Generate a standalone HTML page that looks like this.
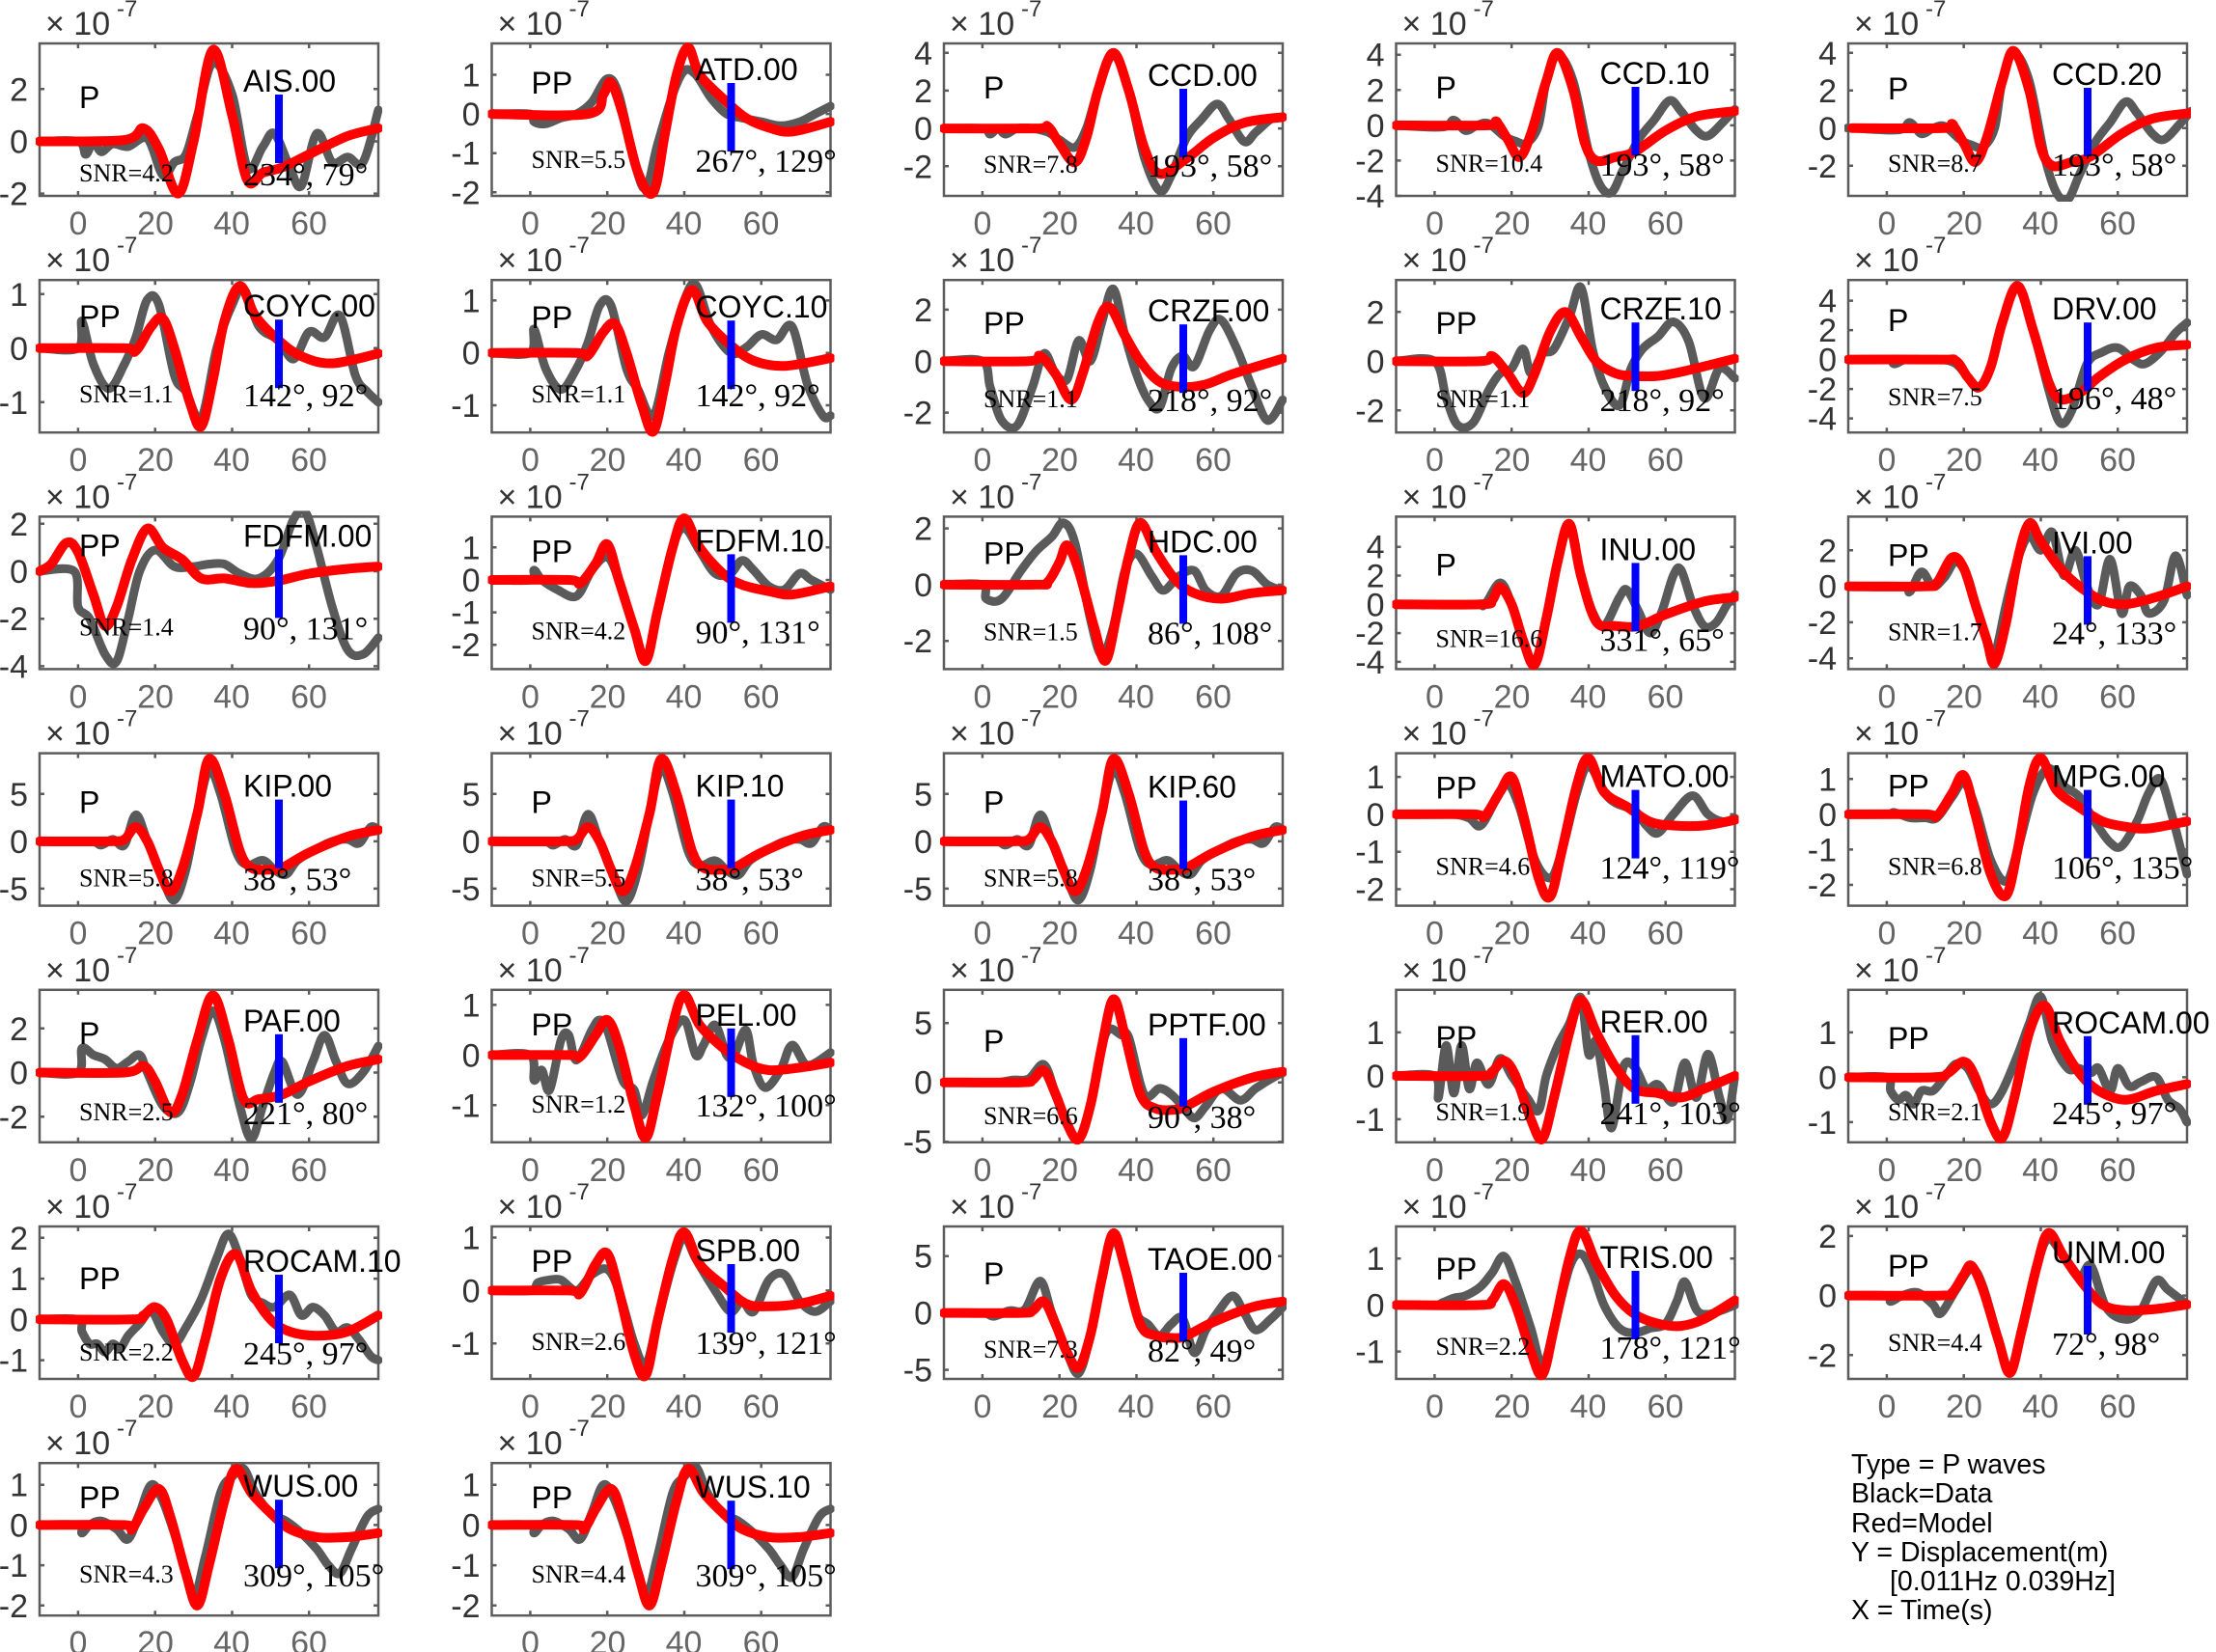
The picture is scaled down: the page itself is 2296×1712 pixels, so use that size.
<!DOCTYPE html>
<html><head><meta charset="utf-8">
<style>
html,body{margin:0;padding:0;background:#fff;}
svg{display:block;}
text{font-family:"Liberation Sans",sans-serif;}
.e{font-size:34px;fill:#333;}
.e2{font-size:24px;fill:#333;}
.xl{font-size:34px;fill:#666;text-anchor:middle;}
.yl{font-size:34px;fill:#333;text-anchor:end;}
.ti{font-size:32px;fill:#000;}
.ph{font-size:32px;fill:#000;}
.sn{font-family:"Liberation Serif",serif;font-size:26px;fill:#000;}
.an{font-family:"Liberation Serif",serif;font-size:34px;fill:#000;}
.lg{font-size:28.5px;fill:#000;}
</style></head><body>
<svg id="s" width="2296" height="1712" viewBox="0 0 2296 1712" xmlns="http://www.w3.org/2000/svg">
<rect width="2296" height="1712" fill="#fff"/>

<g class="pn" transform="translate(41,45)"><text class="e" x="6" y="-9">× 10</text><text class="e2" x="80" y="-28">-7</text><text class="xl" x="40" y="198">0</text><text class="xl" x="120" y="198">20</text><text class="xl" x="199" y="198">40</text><text class="xl" x="279" y="198">60</text><text class="yl">-2</text><text class="yl">0</text><text class="yl">2</text><text class="ti" x="211" y="50">AIS.00</text><text class="ph" x="41" y="67">P</text><text class="sn" x="41" y="143">SNR=4.2</text><text class="an" x="211" y="147">234°, 79°</text></g>
<g class="pn" transform="translate(509.5,45)"><text class="e" x="6" y="-9">× 10</text><text class="e2" x="80" y="-28">-7</text><text class="xl" x="40" y="198">0</text><text class="xl" x="120" y="198">20</text><text class="xl" x="199" y="198">40</text><text class="xl" x="279" y="198">60</text><text class="yl">-2</text><text class="yl">-1</text><text class="yl">0</text><text class="yl">1</text><text class="ti" x="211" y="38">ATD.00</text><text class="ph" x="41" y="52">PP</text><text class="sn" x="41" y="129">SNR=5.5</text><text class="an" x="211" y="133">267°, 129°</text></g>
<g class="pn" transform="translate(978,45)"><text class="e" x="6" y="-9">× 10</text><text class="e2" x="80" y="-28">-7</text><text class="xl" x="40" y="198">0</text><text class="xl" x="120" y="198">20</text><text class="xl" x="199" y="198">40</text><text class="xl" x="279" y="198">60</text><text class="yl">-2</text><text class="yl">0</text><text class="yl">2</text><text class="yl">4</text><text class="ti" x="211" y="44">CCD.00</text><text class="ph" x="41" y="57">P</text><text class="sn" x="41" y="134">SNR=7.8</text><text class="an" x="211" y="138">193°, 58°</text></g>
<g class="pn" transform="translate(1446.5,45)"><text class="e" x="6" y="-9">× 10</text><text class="e2" x="80" y="-28">-7</text><text class="xl" x="40" y="198">0</text><text class="xl" x="120" y="198">20</text><text class="xl" x="199" y="198">40</text><text class="xl" x="279" y="198">60</text><text class="yl">-4</text><text class="yl">-2</text><text class="yl">0</text><text class="yl">2</text><text class="yl">4</text><text class="ti" x="211" y="42">CCD.10</text><text class="ph" x="41" y="57">P</text><text class="sn" x="41" y="133">SNR=10.4</text><text class="an" x="211" y="137">193°, 58°</text></g>
<g class="pn" transform="translate(1915,45)"><text class="e" x="6" y="-9">× 10</text><text class="e2" x="80" y="-28">-7</text><text class="xl" x="40" y="198">0</text><text class="xl" x="120" y="198">20</text><text class="xl" x="199" y="198">40</text><text class="xl" x="279" y="198">60</text><text class="yl">-2</text><text class="yl">0</text><text class="yl">2</text><text class="yl">4</text><text class="ti" x="211" y="43">CCD.20</text><text class="ph" x="41" y="58">P</text><text class="sn" x="41" y="133">SNR=8.7</text><text class="an" x="211" y="137">193°, 58°</text></g>

<g class="pn" transform="translate(41,290.2)"><text class="e" x="6" y="-9">× 10</text><text class="e2" x="80" y="-28">-7</text><text class="xl" x="40" y="198">0</text><text class="xl" x="120" y="198">20</text><text class="xl" x="199" y="198">40</text><text class="xl" x="279" y="198">60</text><text class="yl">-1</text><text class="yl">0</text><text class="yl">1</text><text class="ti" x="211" y="38">COYC.00</text><text class="ph" x="41" y="49">PP</text><text class="sn" x="41" y="127">SNR=1.1</text><text class="an" x="211" y="131">142°, 92°</text></g>
<g class="pn" transform="translate(509.5,290.2)"><text class="e" x="6" y="-9">× 10</text><text class="e2" x="80" y="-28">-7</text><text class="xl" x="40" y="198">0</text><text class="xl" x="120" y="198">20</text><text class="xl" x="199" y="198">40</text><text class="xl" x="279" y="198">60</text><text class="yl">-1</text><text class="yl">0</text><text class="yl">1</text><text class="ti" x="211" y="39">COYC.10</text><text class="ph" x="41" y="50">PP</text><text class="sn" x="41" y="127">SNR=1.1</text><text class="an" x="211" y="131">142°, 92°</text></g>
<g class="pn" transform="translate(978,290.2)"><text class="e" x="6" y="-9">× 10</text><text class="e2" x="80" y="-28">-7</text><text class="xl" x="40" y="198">0</text><text class="xl" x="120" y="198">20</text><text class="xl" x="199" y="198">40</text><text class="xl" x="279" y="198">60</text><text class="yl">-2</text><text class="yl">0</text><text class="yl">2</text><text class="ti" x="211" y="43">CRZF.00</text><text class="ph" x="41" y="56">PP</text><text class="sn" x="41" y="132">SNR=1.1</text><text class="an" x="211" y="136">218°, 92°</text></g>
<g class="pn" transform="translate(1446.5,290.2)"><text class="e" x="6" y="-9">× 10</text><text class="e2" x="80" y="-28">-7</text><text class="xl" x="40" y="198">0</text><text class="xl" x="120" y="198">20</text><text class="xl" x="199" y="198">40</text><text class="xl" x="279" y="198">60</text><text class="yl">-2</text><text class="yl">0</text><text class="yl">2</text><text class="ti" x="211" y="41">CRZF.10</text><text class="ph" x="41" y="56">PP</text><text class="sn" x="41" y="132">SNR=1.1</text><text class="an" x="211" y="136">218°, 92°</text></g>
<g class="pn" transform="translate(1915,290.2)"><text class="e" x="6" y="-9">× 10</text><text class="e2" x="80" y="-28">-7</text><text class="xl" x="40" y="198">0</text><text class="xl" x="120" y="198">20</text><text class="xl" x="199" y="198">40</text><text class="xl" x="279" y="198">60</text><text class="yl">-4</text><text class="yl">-2</text><text class="yl">0</text><text class="yl">2</text><text class="yl">4</text><text class="ti" x="211" y="41">DRV.00</text><text class="ph" x="41" y="53">P</text><text class="sn" x="41" y="130">SNR=7.5</text><text class="an" x="211" y="134">196°, 48°</text></g>

<g class="pn" transform="translate(41,535.4)"><text class="e" x="6" y="-9">× 10</text><text class="e2" x="80" y="-28">-7</text><text class="xl" x="40" y="198">0</text><text class="xl" x="120" y="198">20</text><text class="xl" x="199" y="198">40</text><text class="xl" x="279" y="198">60</text><text class="yl">-4</text><text class="yl">-2</text><text class="yl">0</text><text class="yl">2</text><text class="ti" x="211" y="31">FDFM.00</text><text class="ph" x="41" y="41">PP</text><text class="sn" x="41" y="123">SNR=1.4</text><text class="an" x="211" y="127">90°, 131°</text></g>
<g class="pn" transform="translate(509.5,535.4)"><text class="e" x="6" y="-9">× 10</text><text class="e2" x="80" y="-28">-7</text><text class="xl" x="40" y="198">0</text><text class="xl" x="120" y="198">20</text><text class="xl" x="199" y="198">40</text><text class="xl" x="279" y="198">60</text><text class="yl">-2</text><text class="yl">-1</text><text class="yl">0</text><text class="yl">1</text><text class="ti" x="211" y="36">FDFM.10</text><text class="ph" x="41" y="47">PP</text><text class="sn" x="41" y="127">SNR=4.2</text><text class="an" x="211" y="131">90°, 131°</text></g>
<g class="pn" transform="translate(978,535.4)"><text class="e" x="6" y="-9">× 10</text><text class="e2" x="80" y="-28">-7</text><text class="xl" x="40" y="198">0</text><text class="xl" x="120" y="198">20</text><text class="xl" x="199" y="198">40</text><text class="xl" x="279" y="198">60</text><text class="yl">-2</text><text class="yl">0</text><text class="yl">2</text><text class="ti" x="211" y="37">HDC.00</text><text class="ph" x="41" y="49">PP</text><text class="sn" x="41" y="128">SNR=1.5</text><text class="an" x="211" y="132">86°, 108°</text></g>
<g class="pn" transform="translate(1446.5,535.4)"><text class="e" x="6" y="-9">× 10</text><text class="e2" x="80" y="-28">-7</text><text class="xl" x="40" y="198">0</text><text class="xl" x="120" y="198">20</text><text class="xl" x="199" y="198">40</text><text class="xl" x="279" y="198">60</text><text class="yl">-4</text><text class="yl">-2</text><text class="yl">0</text><text class="yl">2</text><text class="yl">4</text><text class="ti" x="211" y="45">INU.00</text><text class="ph" x="41" y="61">P</text><text class="sn" x="41" y="135">SNR=16.6</text><text class="an" x="211" y="139">331°, 65°</text></g>
<g class="pn" transform="translate(1915,535.4)"><text class="e" x="6" y="-9">× 10</text><text class="e2" x="80" y="-28">-7</text><text class="xl" x="40" y="198">0</text><text class="xl" x="120" y="198">20</text><text class="xl" x="199" y="198">40</text><text class="xl" x="279" y="198">60</text><text class="yl">-4</text><text class="yl">-2</text><text class="yl">0</text><text class="yl">2</text><text class="ti" x="211" y="38">IVI.00</text><text class="ph" x="41" y="51">PP</text><text class="sn" x="41" y="128">SNR=1.7</text><text class="an" x="211" y="132">24°, 133°</text></g>

<g class="pn" transform="translate(41,780.6)"><text class="e" x="6" y="-9">× 10</text><text class="e2" x="80" y="-28">-7</text><text class="xl" x="40" y="198">0</text><text class="xl" x="120" y="198">20</text><text class="xl" x="199" y="198">40</text><text class="xl" x="279" y="198">60</text><text class="yl">-5</text><text class="yl">0</text><text class="yl">5</text><text class="ti" x="211" y="45">KIP.00</text><text class="ph" x="41" y="62">P</text><text class="sn" x="41" y="138">SNR=5.8</text><text class="an" x="211" y="142">38°, 53°</text></g>
<g class="pn" transform="translate(509.5,780.6)"><text class="e" x="6" y="-9">× 10</text><text class="e2" x="80" y="-28">-7</text><text class="xl" x="40" y="198">0</text><text class="xl" x="120" y="198">20</text><text class="xl" x="199" y="198">40</text><text class="xl" x="279" y="198">60</text><text class="yl">-5</text><text class="yl">0</text><text class="yl">5</text><text class="ti" x="211" y="45">KIP.10</text><text class="ph" x="41" y="62">P</text><text class="sn" x="41" y="138">SNR=5.5</text><text class="an" x="211" y="142">38°, 53°</text></g>
<g class="pn" transform="translate(978,780.6)"><text class="e" x="6" y="-9">× 10</text><text class="e2" x="80" y="-28">-7</text><text class="xl" x="40" y="198">0</text><text class="xl" x="120" y="198">20</text><text class="xl" x="199" y="198">40</text><text class="xl" x="279" y="198">60</text><text class="yl">-5</text><text class="yl">0</text><text class="yl">5</text><text class="ti" x="211" y="46">KIP.60</text><text class="ph" x="41" y="62">P</text><text class="sn" x="41" y="138">SNR=5.8</text><text class="an" x="211" y="142">38°, 53°</text></g>
<g class="pn" transform="translate(1446.5,780.6)"><text class="e" x="6" y="-9">× 10</text><text class="e2" x="80" y="-28">-7</text><text class="xl" x="40" y="198">0</text><text class="xl" x="120" y="198">20</text><text class="xl" x="199" y="198">40</text><text class="xl" x="279" y="198">60</text><text class="yl">-2</text><text class="yl">-1</text><text class="yl">0</text><text class="yl">1</text><text class="ti" x="211" y="35">MATO.00</text><text class="ph" x="41" y="47">PP</text><text class="sn" x="41" y="126">SNR=4.6</text><text class="an" x="211" y="130">124°, 119°</text></g>
<g class="pn" transform="translate(1915,780.6)"><text class="e" x="6" y="-9">× 10</text><text class="e2" x="80" y="-28">-7</text><text class="xl" x="40" y="198">0</text><text class="xl" x="120" y="198">20</text><text class="xl" x="199" y="198">40</text><text class="xl" x="279" y="198">60</text><text class="yl">-2</text><text class="yl">-1</text><text class="yl">0</text><text class="yl">1</text><text class="ti" x="211" y="35">MPG.00</text><text class="ph" x="41" y="45">PP</text><text class="sn" x="41" y="126">SNR=6.8</text><text class="an" x="211" y="130">106°, 135°</text></g>

<g class="pn" transform="translate(41,1025.8)"><text class="e" x="6" y="-9">× 10</text><text class="e2" x="80" y="-28">-7</text><text class="xl" x="40" y="198">0</text><text class="xl" x="120" y="198">20</text><text class="xl" x="199" y="198">40</text><text class="xl" x="279" y="198">60</text><text class="yl">-2</text><text class="yl">0</text><text class="yl">2</text><text class="ti" x="211" y="43">PAF.00</text><text class="ph" x="41" y="56">P</text><text class="sn" x="41" y="135">SNR=2.5</text><text class="an" x="211" y="139">221°, 80°</text></g>
<g class="pn" transform="translate(509.5,1025.8)"><text class="e" x="6" y="-9">× 10</text><text class="e2" x="80" y="-28">-7</text><text class="xl" x="40" y="198">0</text><text class="xl" x="120" y="198">20</text><text class="xl" x="199" y="198">40</text><text class="xl" x="279" y="198">60</text><text class="yl">-1</text><text class="yl">0</text><text class="yl">1</text><text class="ti" x="211" y="37">PEL.00</text><text class="ph" x="41" y="47">PP</text><text class="sn" x="41" y="127">SNR=1.2</text><text class="an" x="211" y="131">132°, 100°</text></g>
<g class="pn" transform="translate(978,1025.8)"><text class="e" x="6" y="-9">× 10</text><text class="e2" x="80" y="-28">-7</text><text class="xl" x="40" y="198">0</text><text class="xl" x="120" y="198">20</text><text class="xl" x="199" y="198">40</text><text class="xl" x="279" y="198">60</text><text class="yl">-5</text><text class="yl">0</text><text class="yl">5</text><text class="ti" x="211" y="47">PPTF.00</text><text class="ph" x="41" y="64">P</text><text class="sn" x="41" y="139">SNR=6.6</text><text class="an" x="211" y="143">90°, 38°</text></g>
<g class="pn" transform="translate(1446.5,1025.8)"><text class="e" x="6" y="-9">× 10</text><text class="e2" x="80" y="-28">-7</text><text class="xl" x="40" y="198">0</text><text class="xl" x="120" y="198">20</text><text class="xl" x="199" y="198">40</text><text class="xl" x="279" y="198">60</text><text class="yl">-1</text><text class="yl">0</text><text class="yl">1</text><text class="ti" x="211" y="44">RER.00</text><text class="ph" x="41" y="60">PP</text><text class="sn" x="41" y="135">SNR=1.9</text><text class="an" x="211" y="139">241°, 103°</text></g>
<g class="pn" transform="translate(1915,1025.8)"><text class="e" x="6" y="-9">× 10</text><text class="e2" x="80" y="-28">-7</text><text class="xl" x="40" y="198">0</text><text class="xl" x="120" y="198">20</text><text class="xl" x="199" y="198">40</text><text class="xl" x="279" y="198">60</text><text class="yl">-1</text><text class="yl">0</text><text class="yl">1</text><text class="ti" x="211" y="45">ROCAM.00</text><text class="ph" x="41" y="61">PP</text><text class="sn" x="41" y="135">SNR=2.1</text><text class="an" x="211" y="139">245°, 97°</text></g>

<g class="pn" transform="translate(41,1271)"><text class="e" x="6" y="-9">× 10</text><text class="e2" x="80" y="-28">-7</text><text class="xl" x="40" y="198">0</text><text class="xl" x="120" y="198">20</text><text class="xl" x="199" y="198">40</text><text class="xl" x="279" y="198">60</text><text class="yl">-1</text><text class="yl">0</text><text class="yl">1</text><text class="yl">2</text><text class="ti" x="211" y="47">ROCAM.10</text><text class="ph" x="41" y="65">PP</text><text class="sn" x="41" y="139">SNR=2.2</text><text class="an" x="211" y="143">245°, 97°</text></g>
<g class="pn" transform="translate(509.5,1271)"><text class="e" x="6" y="-9">× 10</text><text class="e2" x="80" y="-28">-7</text><text class="xl" x="40" y="198">0</text><text class="xl" x="120" y="198">20</text><text class="xl" x="199" y="198">40</text><text class="xl" x="279" y="198">60</text><text class="yl">-1</text><text class="yl">0</text><text class="yl">1</text><text class="ti" x="211" y="36">SPB.00</text><text class="ph" x="41" y="47">PP</text><text class="sn" x="41" y="128">SNR=2.6</text><text class="an" x="211" y="132">139°, 121°</text></g>
<g class="pn" transform="translate(978,1271)"><text class="e" x="6" y="-9">× 10</text><text class="e2" x="80" y="-28">-7</text><text class="xl" x="40" y="198">0</text><text class="xl" x="120" y="198">20</text><text class="xl" x="199" y="198">40</text><text class="xl" x="279" y="198">60</text><text class="yl">-5</text><text class="yl">0</text><text class="yl">5</text><text class="ti" x="211" y="45">TAOE.00</text><text class="ph" x="41" y="60">P</text><text class="sn" x="41" y="136">SNR=7.3</text><text class="an" x="211" y="140">82°, 49°</text></g>
<g class="pn" transform="translate(1446.5,1271)"><text class="e" x="6" y="-9">× 10</text><text class="e2" x="80" y="-28">-7</text><text class="xl" x="40" y="198">0</text><text class="xl" x="120" y="198">20</text><text class="xl" x="199" y="198">40</text><text class="xl" x="279" y="198">60</text><text class="yl">-1</text><text class="yl">0</text><text class="yl">1</text><text class="ti" x="211" y="43">TRIS.00</text><text class="ph" x="41" y="55">PP</text><text class="sn" x="41" y="133">SNR=2.2</text><text class="an" x="211" y="137">178°, 121°</text></g>
<g class="pn" transform="translate(1915,1271)"><text class="e" x="6" y="-9">× 10</text><text class="e2" x="80" y="-28">-7</text><text class="xl" x="40" y="198">0</text><text class="xl" x="120" y="198">20</text><text class="xl" x="199" y="198">40</text><text class="xl" x="279" y="198">60</text><text class="yl">-2</text><text class="yl">0</text><text class="yl">2</text><text class="ti" x="211" y="38">UNM.00</text><text class="ph" x="41" y="52">PP</text><text class="sn" x="41" y="129">SNR=4.4</text><text class="an" x="211" y="133">72°, 98°</text></g>

<g class="pn" transform="translate(41,1516.2)"><text class="e" x="6" y="-9">× 10</text><text class="e2" x="80" y="-28">-7</text><text class="xl" x="40" y="198">0</text><text class="xl" x="120" y="198">20</text><text class="xl" x="199" y="198">40</text><text class="xl" x="279" y="198">60</text><text class="yl">-2</text><text class="yl">-1</text><text class="yl">0</text><text class="yl">1</text><text class="ti" x="211" y="35">WUS.00</text><text class="ph" x="41" y="47">PP</text><text class="sn" x="41" y="124">SNR=4.3</text><text class="an" x="211" y="128">309°, 105°</text></g>
<g class="pn" transform="translate(509.5,1516.2)"><text class="e" x="6" y="-9">× 10</text><text class="e2" x="80" y="-28">-7</text><text class="xl" x="40" y="198">0</text><text class="xl" x="120" y="198">20</text><text class="xl" x="199" y="198">40</text><text class="xl" x="279" y="198">60</text><text class="yl">-2</text><text class="yl">-1</text><text class="yl">0</text><text class="yl">1</text><text class="ti" x="211" y="36">WUS.10</text><text class="ph" x="41" y="47">PP</text><text class="sn" x="41" y="124">SNR=4.4</text><text class="an" x="211" y="128">309°, 105°</text></g>

<text class="lg" x="1918" y="1527">Type = P waves</text>
<text class="lg" x="1918" y="1557">Black=Data</text>
<text class="lg" x="1918" y="1588">Red=Model</text>
<text class="lg" x="1918" y="1618">Y = Displacement(m)</text>
<text class="lg" x="1958" y="1648">[0.011Hz 0.039Hz]</text>
<text class="lg" x="1918" y="1678">X = Time(s)</text>
</svg>
<script>
(function(){
var W=351,H=158,NS="http://www.w3.org/2000/svg";
var KIPr=[[-10,0],[8,0],[12,0.2],[15,1.5],[18,0],[21,-3],[24,-5.3],[27,-3],[31,3],[34,8.7],[38,5],[42,-1],[45,-2.8],[50,-3.0],[53,-2.8],[60,-1.2],[70,0.5],[78,1.2]];
var KIPg=[[-10,0],[3,0],[6,-0.4],[9,0.2],[12,-0.4],[15,2.8],[18,0],[22,-4],[25,-6.2],[28,-3],[31,3],[34,7.5],[37,5],[41,-1],[44,-2.5],[48,-2],[51,-3],[54,-3.5],[57,-2],[62,-0.8],[66,0],[70,0.2],[73,-0.2],[76,1.5],[78,1.2]];
var CCDr=[[-10,0],[14,0],[16,0.2],[19,-0.8],[22,-1.8],[25,-0.5],[29,2.5],[32,4.1],[36,2],[39,-1],[42,-2.0],[47,-1.8],[52,-1.5],[60,-0.3],[68,0.5],[78,0.8]];
var CCDg=[[-10,0],[2,-0.1],[5,0.3],[8,-0.3],[11,0],[14,0.1],[18,-0.6],[21,-0.9],[24,-1.0],[27,0],[29,2.5],[32,4.0],[36,2.5],[40,-1.5],[43,-3.4],[46,-3.8],[49,-2.5],[53,-0.8],[57,0.3],[61,1.4],[64,0.8],[68,-0.3],[71,-0.6],[75,0.2],[78,0.9]];
var D=[
{y:[-2.09,3.75],r:[[-10,0],[12,0.05],[17,0.5],[21,-0.3],[26,-2.0],[30,0],[35,3.5],[40,1],[44,-1.5],[48,-1.2],[53,-1.0],[60,-0.5],[70,0.2],[78,0.5]],
 g:[[-10,0],[0,0],[2,-0.5],[4,0],[6,-0.4],[9,-0.1],[13,-0.2],[18,0.1],[22,-1.3],[25,-0.8],[28,-0.5],[31,1],[35,3.0],[40,1.8],[44,-1.0],[48,-0.2],[51,0.3],[55,-1.0],[58,-1.7],[62,0.3],[66,-0.8],[70,-0.6],[74,-0.8],[78,1.2]]},
{y:[-2.09,1.8],r:[[-10,0],[15,0],[19,0.5],[21,0.8],[24,0],[28,-1.5],[32,-2.0],[35,-0.5],[38,1.0],[41,1.7],[44,1.0],[50,0.4],[56,-0.1],[62,-0.35],[68,-0.45],[78,-0.2]],
 g:[[-10,0],[0,0],[1,-0.2],[4,-0.25],[8,-0.1],[12,0],[16,0.3],[20,0.9],[23,0.5],[27,-1.2],[30,-1.9],[33,-0.8],[37,0.5],[40,1.1],[43,1.0],[47,0.4],[51,0.0],[55,-0.1],[60,-0.2],[65,-0.3],[70,-0.2],[74,0],[78,0.2]]},
{y:[-3.57,4.5],r:[[-10,0],[14,0],[17,0.1],[20,-0.8],[24,-1.8],[27,-0.5],[30,2],[34,4],[38,2],[42,-1],[46,-2.4],[53,-1.6],[60,-0.5],[68,0.3],[78,0.6]],
 g:[[-10,0],[0,0],[2,-0.3],[4,0],[6,-0.3],[9,0],[13,0],[17,-0.2],[20,-0.6],[24,-1.0],[27,0],[30,2],[34,3.9],[38,2],[42,-1.5],[46,-3.3],[49,-2.5],[53,-0.5],[57,0.5],[61,1.3],[64,0.5],[68,-0.7],[71,-0.2],[75,0.5],[78,0.6]]},
{y:[-4,4.64],r:CCDr,g:CCDg},
{y:[-3.6,4.5],r:CCDr.map(function(p){return [p[0]+1,p[1]];}),g:CCDg.map(function(p){return [p[0]+1,p[1]];})},
{y:[-1.56,1.26],r:[[-10,0],[12,0],[15,-0.05],[19,0.4],[22,0.55],[25,0],[29,-1.0],[32,-1.45],[35,-0.6],[38,0.5],[42,1.15],[46,0.6],[52,0.15],[58,-0.15],[66,-0.28],[78,-0.1]],
 g:[[-10,0],[0,0],[1,0.5],[4,-0.3],[8,-0.75],[12,-0.3],[15,0.2],[18,0.9],[21,0.8],[25,-0.5],[28,-0.8],[32,-1.3],[36,0],[40,0.8],[43,1.1],[47,0.4],[52,0.15],[56,-0.2],[60,0.3],[64,0.2],[68,0.6],[72,-0.5],[75,-0.8],[78,-1.0]]},
{y:[-1.52,1.39],r:[[-10,0],[12,0],[15,-0.05],[19,0.4],[22,0.55],[25,0],[29,-1.0],[32,-1.5],[35,-0.6],[38,0.5],[42,1.2],[46,0.6],[52,0.15],[58,-0.15],[66,-0.25],[78,-0.1]],
 g:[[-10,0],[0,0],[1,0.45],[4,-0.3],[8,-0.7],[12,-0.3],[15,0.2],[18,0.9],[21,0.9],[25,-0.3],[28,-0.7],[32,-1.2],[36,0],[40,1.0],[43,1.3],[47,0.5],[52,0],[56,0.1],[60,0.35],[64,0.25],[68,0.5],[72,-0.6],[76,-1.2],[78,-1.2]]},
{y:[-2.77,3.15],r:[[-10,0],[12,0],[15,0.2],[19,-0.5],[23,-1.5],[26,-0.5],[30,1.5],[33,2.1],[37,1],[41,0],[46,-0.8],[52,-1.0],[58,-0.9],[65,-0.5],[78,0.1]],
 g:[[-10,0],[0,0],[2,-1.0],[5,-2.3],[9,-2.5],[13,-1.0],[16,0.3],[19,-0.5],[22,-0.7],[25,0.8],[28,0],[31,1.5],[34,2.8],[37,1],[40,-0.5],[43,-1.5],[46,-1.8],[49,-0.3],[52,0.2],[55,-0.2],[59,1.2],[62,1.6],[66,0.5],[70,-1.0],[74,-2.3],[78,-1.5]]},
{y:[-2.9,3.3],r:[[-10,0],[12,0],[15,0.2],[19,-0.5],[23,-1.3],[26,-0.5],[30,1.2],[34,2.0],[38,1],[42,0],[47,-0.5],[52,-0.6],[58,-0.6],[65,-0.4],[78,0.1]],
 g:[[-10,0],[0,0],[3,-1.5],[6,-2.6],[10,-2.5],[14,-1.2],[17,-0.5],[20,-0.3],[23,0.5],[25,-0.5],[28,0.3],[31,0.5],[35,1.8],[38,3.0],[41,0.5],[44,-1.0],[48,-1.8],[51,-0.3],[54,0.5],[58,1.0],[62,1.6],[66,0.8],[70,-1.5],[74,-0.3],[78,-0.7]]},
{y:[-4.96,5.4],r:[[-10,0],[14,0],[18,-0.1],[21,-1.2],[24,-1.9],[27,-0.5],[30,2.5],[34,5.0],[38,2],[42,-1.5],[45,-2.7],[50,-2.3],[55,-1.2],[62,0.0],[70,0.8],[78,1.0]],
 g:[[-10,0],[0,0],[2,-0.3],[5,0],[10,0],[14,0],[18,-0.3],[22,-1.5],[24,-1.9],[27,-0.5],[30,2.5],[34,4.9],[38,2],[42,-2],[45,-4.3],[48,-3.5],[52,-0.3],[56,0.5],[60,0.8],[64,0],[67,-0.3],[71,0.5],[75,1.8],[78,2.5]]},
{y:[-4.12,2.3],r:[[-10,0],[-7,0.3],[-3,1.2],[0,0.8],[4,-1],[7,-2.3],[10,-1.5],[14,0.5],[18,1.8],[22,1.0],[27,0.5],[32,-0.3],[38,-0.3],[45,-0.5],[52,-0.4],[60,-0.1],[70,0.1],[78,0.2]],
 g:[[-10,0],[-1,0],[0,-1.5],[3,-2],[7,-3.5],[10,-3.8],[13,-2],[16,0],[20,0.9],[25,0.2],[30,0.2],[34,0.3],[38,0.3],[42,-0.1],[47,-0.3],[52,0.5],[56,2.2],[59,2.5],[62,1.0],[66,-1.5],[70,-3.3],[74,-3.5],[78,-2.8]]},
{y:[-2.75,1.95],r:[[-10,0],[10,0],[13,-0.1],[17,0.5],[20,1.1],[23,0],[27,-1.5],[30,-2.5],[33,-1.0],[37,1.0],[40,1.9],[44,1.0],[50,0.2],[55,-0.15],[62,-0.35],[68,-0.45],[78,-0.2]],
 g:[[-10,0],[0,0],[1,0.3],[3,0],[7,-0.3],[12,-0.5],[16,0.3],[20,0.7],[23,0],[27,-1.5],[30,-2.5],[33,-1.0],[37,1.0],[40,1.6],[44,0.9],[48,0.2],[52,0.2],[55,0.6],[58,0.3],[62,-0.2],[66,-0.3],[70,0.2],[73,0],[78,-0.3]]},
{y:[-3.0,2.42],r:[[-10,0],[14,0],[17,0.1],[20,0.8],[22,1.4],[25,0.5],[29,-1.5],[32,-2.7],[35,-1.0],[38,1.0],[41,2.2],[45,1.2],[50,0.2],[55,-0.3],[62,-0.5],[70,-0.3],[78,-0.2]],
 g:[[-10,0],[0,0],[1,-0.5],[5,-0.5],[10,0.5],[14,1.2],[18,1.7],[21,2.2],[24,1.5],[28,-1.2],[31,-2.5],[34,-1.5],[37,0.5],[40,1.1],[44,0.3],[47,-0.2],[51,0.3],[55,0.5],[58,-0.2],[62,-0.4],[66,0.4],[70,0.5],[74,0],[78,-0.2]]},
{y:[-4.5,6.1],r:[[-10,0],[12,0],[15,0.3],[17,1.2],[20,0],[23,-2.5],[26,-4.2],[29,-1.0],[32,3],[35,5.6],[38,2],[42,-1.2],[47,-1.5],[53,-1.5],[60,-0.7],[70,0.2],[78,0.5]],
 g:[[-10,0],[10,0],[13,0],[17,1.5],[20,0],[23,-2.5],[26,-4],[29,-1],[32,3],[35,5.3],[38,2],[41,-0.5],[44,-1.5],[48,0.5],[50,1],[53,-0.5],[56,-2.0],[59,-0.5],[62,2],[64,2.4],[67,0],[70,-1.5],[73,-1.3],[76,0],[78,0.7]]},
{y:[-4.6,3.87],r:[[-10,0],[10,0],[13,0.2],[17,1.6],[20,1.0],[23,-1],[26,-3],[28,-4.3],[31,-2],[34,1.5],[37,3.5],[40,2.5],[45,1.0],[50,0],[56,-0.8],[62,-1.0],[70,-0.6],[78,0]],
 g:[[-10,0],[4,0],[6,-0.3],[9,0.8],[12,0],[15,0.5],[18,1.4],[21,0.5],[23,-1],[26,-3],[28,-3.8],[31,-1],[34,1.5],[37,2.8],[40,2.0],[43,3.0],[46,0.6],[49,2.0],[52,0],[55,-1.0],[58,1.5],[61,-1.5],[63,0],[66,-0.5],[68,-1.5],[72,-0.8],[75,1.7],[78,-0.5]]},
{y:[-6.8,9.3],r:KIPr,g:KIPg},
{y:[-6.8,9.3],r:KIPr,g:KIPg.map(function(p){return [p[0],p[1]*1.02];})},
{y:[-6.8,9.3],r:KIPr,g:KIPg},
{y:[-2.44,1.63],r:[[-10,0],[10,0],[13,-0.05],[17,0.6],[20,1.0],[23,0],[27,-1.7],[30,-2.2],[33,-1.0],[37,0.8],[40,1.5],[44,0.6],[50,0.2],[56,-0.2],[62,-0.3],[70,-0.3],[78,-0.15]],
 g:[[-10,0],[0,0],[5,0],[9,-0.1],[12,-0.3],[16,0.4],[19,0.8],[22,0.2],[26,-1.2],[30,-1.7],[33,-1.0],[37,0.6],[40,1.3],[44,0.6],[47,0.3],[52,0.1],[55,-0.3],[58,-0.5],[62,0],[67,0.5],[71,0],[75,-0.2],[78,-0.1]]},
{y:[-2.59,1.73],r:[[-10,0],[10,0],[13,-0.05],[17,0.6],[20,1.1],[23,0],[27,-1.7],[31,-2.3],[34,-1.0],[37,0.8],[40,1.6],[44,0.7],[50,0.2],[56,-0.2],[62,-0.35],[68,-0.4],[78,-0.2]],
 g:[[-10,0],[0,0],[2,0.05],[6,-0.1],[10,-0.1],[13,-0.1],[17,0.5],[20,0.9],[23,0.2],[27,-1.3],[31,-1.9],[34,-1.0],[38,0.6],[42,1.3],[46,0.8],[50,0.5],[54,-0.2],[58,-0.8],[61,-0.9],[65,-0.2],[68,0.6],[71,1.0],[74,0],[78,-1.7]]},
{y:[-3.16,3.75],r:[[-10,0],[12,0],[17,0.3],[20,-0.4],[24,-1.8],[27,-1.0],[31,1.5],[35,3.5],[39,1.5],[43,-1.2],[47,-1.2],[53,-1.0],[60,-0.4],[70,0.3],[78,0.6]],
 g:[[-10,0],[0,0],[1,1.1],[4,0.8],[7,0.6],[10,0.2],[13,0.5],[16,0.8],[18,0],[22,-1.5],[26,-1.8],[29,-0.5],[32,1.5],[35,2.8],[38,1.5],[42,-1.5],[45,-3.0],[48,-1.5],[51,0],[53,0.5],[57,-1.0],[61,0.5],[64,1.7],[67,0.5],[70,-0.5],[74,0],[78,1.2]]},
{y:[-1.74,1.3],r:[[-10,0],[10,0],[13,-0.03],[17,0.4],[20,0.7],[23,0.2],[27,-1.0],[30,-1.65],[33,-0.8],[37,0.6],[40,1.2],[44,0.6],[50,0.15],[56,-0.15],[62,-0.3],[70,-0.25],[78,-0.15]],
 g:[[-10,0],[0,0],[1,-0.5],[3,-0.3],[5,-0.7],[8,0.3],[10,0.4],[12,-0.1],[16,0.5],[18,0.7],[20,0.5],[24,-0.5],[27,-0.7],[29,-1.2],[32,-0.5],[36,0.3],[40,0.7],[43,0],[45,0.2],[48,0.6],[51,0],[53,0],[56,0.5],[58,-0.2],[61,-0.65],[65,-0.3],[68,0.2],[72,-0.2],[78,0.05]]},
{y:[-5.05,7.8],r:[[-10,0],[10,0],[13,0.2],[16,1.0],[19,-1],[22,-3.5],[25,-4.8],[28,-2],[31,3],[34,7.0],[37,4],[41,-1],[45,-2.2],[50,-2.3],[53,-2.0],[60,-0.8],[70,0.4],[78,0.9]],
 g:[[-10,0],[0,0],[4,0],[8,0.2],[12,0.3],[16,1.5],[19,-1],[22,-3.5],[25,-4.8],[28,-2],[31,3],[33,4.5],[36,4.0],[38,3.8],[42,-1],[46,-0.5],[49,-1.0],[52,-2],[55,-3],[58,-2],[62,-0.5],[67,-1.5],[71,-0.5],[76,0.5],[78,0.8]]},
{y:[-1.53,1.98],r:[[-10,0],[12,0],[15,0.1],[18,0.35],[21,0],[25,-1.0],[28,-1.45],[31,-0.5],[35,1.0],[38,1.75],[42,1.0],[47,0.2],[52,-0.3],[58,-0.4],[64,-0.5],[70,-0.3],[78,0]],
 g:[[-10,0],[0,0],[1,-0.5],[3,0.7],[5,-0.4],[7,0.7],[9,-0.3],[11,0.3],[14,-0.2],[17,0.4],[20,0],[24,-0.5],[27,-0.8],[29,0],[32,0.7],[35,1.2],[38,1.8],[40,0.5],[42,0.8],[44,-0.2],[46,-1.2],[49,0.2],[52,0.2],[55,-0.3],[58,-0.2],[62,-0.6],[65,0.3],[68,-0.5],[71,0.5],[74,-0.5],[76,-1.0],[78,0]]},
{y:[-1.45,1.95],r:[[-10,0],[12,0],[16,0.1],[20,0.35],[23,0],[27,-1],[30,-1.35],[33,-0.5],[37,1.0],[41,1.6],[45,0.8],[50,0.1],[55,-0.3],[62,-0.5],[70,-0.3],[78,-0.15]],
 g:[[-10,0],[0,0],[1,-0.3],[3,-0.5],[5,-0.4],[7,-0.6],[9,-0.3],[12,-0.3],[15,0],[18,0.3],[21,0.2],[24,-0.3],[27,-0.6],[30,-0.3],[34,0.5],[37,1.2],[40,1.8],[43,0.8],[47,0.2],[50,0.2],[53,0.1],[55,0.2],[58,-0.3],[60,0.2],[63,-0.2],[66,-0.1],[70,0],[73,-0.5],[76,-0.7],[78,-1.0]]},
{y:[-1.46,2.28],r:[[-10,0],[14,0],[17,0.1],[20,0.3],[23,0],[27,-1],[30,-1.4],[33,-0.5],[37,1.0],[41,1.6],[45,0.7],[50,0],[55,-0.3],[62,-0.4],[70,-0.3],[78,0.1]],
 g:[[-10,0],[0,0],[1,-0.3],[3,-0.6],[5,-0.6],[7,-0.8],[9,-0.6],[11,-0.7],[13,-0.4],[16,-0.1],[19,0.2],[22,-0.3],[25,-0.6],[28,-0.2],[32,0.5],[36,1.5],[39,2.1],[42,1.5],[45,0.6],[48,0.4],[51,0.3],[55,0.6],[58,0.1],[61,0.3],[64,0.1],[67,-0.3],[70,-0.2],[73,-0.5],[76,-0.9],[78,-1.0]]},
{y:[-1.67,1.21],r:[[-10,0],[10,0],[13,-0.05],[17,0.5],[20,0.7],[23,0],[27,-1.2],[30,-1.6],[33,-0.6],[37,0.6],[40,1.1],[44,0.5],[50,0.1],[56,-0.25],[62,-0.3],[70,-0.25],[78,-0.1]],
 g:[[-10,0],[0,0],[2,0.15],[5,0.2],[8,0.2],[12,0],[16,0.3],[20,0.4],[23,0],[27,-1.0],[30,-1.4],[33,-0.6],[37,0.5],[40,1.0],[43,0.6],[48,0],[52,-0.4],[55,-0.2],[58,-0.4],[62,0.2],[66,0.3],[70,-0.2],[74,-0.4],[78,-0.2]]},
{y:[-5.8,7.6],r:[[-10,0],[10,0],[13,0.2],[16,1.0],[19,-1],[22,-3.5],[25,-4.8],[28,-2],[31,3],[34,7.0],[37,4],[41,-1],[45,-2.0],[50,-2.2],[53,-2.0],[60,-0.8],[70,0.5],[78,1.0]],
 g:[[-10,0],[0,0],[3,-0.3],[7,0.2],[11,0.3],[15,2.8],[18,0],[22,-3.5],[25,-5.3],[28,-2],[31,3],[34,6.5],[37,4],[40,0],[43,-1],[46,-2],[49,-1.0],[52,-0.5],[55,-3.5],[58,-1.5],[61,0],[65,1.5],[68,0],[71,-1.5],[75,-0.5],[78,0.5]]},
{y:[-1.59,1.69],r:[[-10,0],[12,0],[15,0.1],[18,0.45],[21,0],[25,-1],[28,-1.5],[31,-0.5],[35,1.0],[38,1.6],[42,0.9],[47,0.2],[52,-0.2],[58,-0.4],[64,-0.45],[70,-0.3],[78,0.1]],
 g:[[-10,0],[0,0],[2,0.05],[5,0.15],[8,0.2],[12,0.4],[15,0.7],[18,1.05],[21,0.5],[25,-0.5],[28,-1.3],[31,-0.5],[35,0.8],[38,1.1],[41,0.7],[44,0],[48,-0.5],[52,-0.6],[56,-0.5],[60,-0.4],[63,0.1],[65,0.5],[68,-0.1],[71,-0.2],[75,-0.1],[78,0]]},
{y:[-2.8,2.32],r:[[-10,0],[14,0],[17,0.1],[20,0.7],[22,1.0],[25,0.2],[29,-1.5],[32,-2.6],[35,-1.2],[39,1.0],[42,2.1],[46,1.3],[51,0.4],[56,-0.3],[62,-0.5],[70,-0.45],[78,-0.3]],
 g:[[-10,0],[0,0],[1,-0.2],[4,0.0],[8,0.1],[12,-0.3],[14,-0.6],[18,0.2],[22,0.9],[25,0.3],[29,-1.5],[32,-2.5],[35,-1.2],[39,1.0],[42,1.9],[46,1.3],[50,0.6],[53,1.0],[57,-0.4],[62,-0.8],[66,-0.5],[70,0.5],[73,0.2],[78,-0.3]]},
{y:[-2.25,1.54],r:[[-10,0],[12,0],[14,-0.1],[17,0.4],[21,0.9],[24,0.2],[28,-1.2],[31,-2.0],[34,-1.0],[38,0.6],[41,1.4],[45,0.8],[50,0.3],[55,-0.1],[62,-0.3],[70,-0.3],[78,-0.2]],
 g:[[-10,0],[0,0],[1,-0.2],[3,0],[6,0.1],[10,-0.1],[13,-0.35],[16,0.3],[19,1.0],[22,0.6],[26,-0.5],[30,-1.7],[33,-0.8],[37,0.8],[40,1.2],[43,1.4],[46,0.8],[50,0.3],[54,0.1],[58,-0.2],[62,-0.6],[65,-1.0],[68,-1.2],[71,-0.6],[75,0.2],[78,0.4]]},
{y:[-2.25,1.54],r:[[-10,0],[12,0],[14,-0.1],[17,0.4],[21,0.9],[24,0.2],[28,-1.2],[31,-2.0],[34,-1.0],[38,0.6],[41,1.4],[45,0.8],[50,0.3],[55,-0.1],[62,-0.3],[70,-0.3],[78,-0.2]],
 g:[[-10,0],[0,0],[1,-0.2],[3,0],[6,0.1],[10,-0.1],[13,-0.35],[16,0.3],[19,1.0],[22,0.6],[26,-0.5],[30,-1.7],[33,-0.8],[37,0.8],[40,1.2],[43,1.45],[46,0.8],[50,0.3],[54,0.1],[58,-0.2],[62,-0.6],[65,-1.0],[68,-1.3],[71,-0.6],[75,0.2],[78,0.4]]}
];
function tx(t){return 39.9+t*3.989;}
function el(n,a){var e=document.createElementNS(NS,n);for(var k in a)e.setAttribute(k,a[k]);return e;}
function pth(pts,ty){
 var p=pts.map(function(q){return [tx(q[0]),ty(q[1])];});
 var n=p.length,d='M'+p[0][0].toFixed(1)+','+p[0][1].toFixed(1);
 for(var i=0;i<n-1;i++){
  var p0=p[Math.max(i-1,0)],p1=p[i],p2=p[i+1],p3=p[Math.min(i+2,n-1)];
  var c1x=p1[0]+(p2[0]-p0[0])/6,c1y=p1[1]+(p2[1]-p0[1])/6;
  var c2x=p2[0]-(p3[0]-p1[0])/6,c2y=p2[1]-(p3[1]-p1[1])/6;
  d+=' C'+c1x.toFixed(1)+','+c1y.toFixed(1)+' '+c2x.toFixed(1)+','+c2y.toFixed(1)+' '+p2[0].toFixed(1)+','+p2[1].toFixed(1);
 }
 return d;
}
var svg=document.getElementById('s');
var defs=el('defs',{});svg.insertBefore(defs,svg.firstChild);
var gs=document.querySelectorAll('g.pn');
for(var i=0;i<gs.length;i++){
 var g=gs[i],P=D[i],y0=P.y[0],y1=P.y[1];
 var ty=(function(a,b){return function(v){return H*(b-v)/(b-a);};})(y0,y1);
 var first=g.firstChild;
 var cp=el('clipPath',{id:'c'+i});cp.appendChild(el('rect',{x:-4,y:-6,width:W+8,height:H+12}));defs.appendChild(cp);
 var lines=el('g',{'clip-path':'url(#c'+i+')'});
 var gr=P.g;if(gr[0][0]>-10)gr=[[-10,0]].concat(gr);
 lines.appendChild(el('path',{d:pth(gr,ty),fill:'none',stroke:'#5a5a5a','stroke-width':9,'stroke-linejoin':'round','stroke-linecap':'round'}));
 lines.appendChild(el('path',{d:pth(P.r,ty),fill:'none',stroke:'#ff0000','stroke-width':10,'stroke-linejoin':'round','stroke-linecap':'round'}));
 var ax=el('g',{});
 ax.appendChild(el('rect',{x:0,y:0,width:W,height:H,fill:'none',stroke:'#5c5c5c','stroke-width':2.5}));
 var tk='';
 [0,20,40,60].forEach(function(t){var x=tx(t).toFixed(1);tk+='M'+x+',0v5M'+x+','+H+'v-5';});
 var yl=g.querySelectorAll('text.yl');
 for(var k=0;k<yl.length;k++){
  var v=parseFloat(yl[k].textContent),yy=ty(v);
  yl[k].setAttribute('x',-12);yl[k].setAttribute('y',(yy+12).toFixed(1));
  tk+='M0,'+yy.toFixed(1)+'h5M'+W+','+yy.toFixed(1)+'h-5';
 }
 ax.appendChild(el('path',{d:tk,stroke:'#5c5c5c','stroke-width':2.5,fill:'none'}));
 g.insertBefore(ax,first);
 g.insertBefore(lines,first);
 var tb=parseFloat(g.querySelector('text.ti').getAttribute('y'));
 g.insertBefore(el('rect',{x:244,y:tb+3,width:8,height:71,fill:'#0000ff'}),first);
}
})();
</script>
</body></html>
